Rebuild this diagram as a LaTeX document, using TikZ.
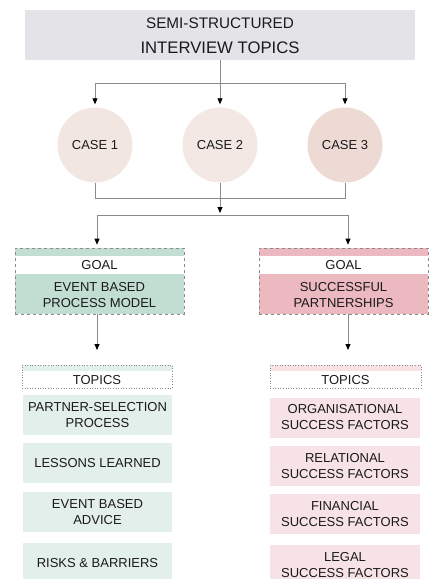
\documentclass[tikz,border=0pt]{standalone}
\usepackage{fontspec}
\setmainfont{Liberation Sans}
\usetikzlibrary{arrows.meta}

\definecolor{headgrey}{HTML}{E4E3E8}
\definecolor{caseA}{HTML}{F2E6E1}
\definecolor{caseB}{HTML}{F3E8E4}
\definecolor{caseC}{HTML}{EEDAD5}
\definecolor{goalgreen}{HTML}{C2DED2}
\definecolor{goalpink}{HTML}{EDB9C1}
\definecolor{topicgreen}{HTML}{E3EFEB}
\definecolor{topicpink}{HTML}{F7E3E5}
\definecolor{linegrey}{HTML}{8A8A8A}
\definecolor{inkgrey}{HTML}{1A1A1A}

\tikzset{
  x=1pt, y=1pt,
  every node/.style={text=inkgrey, font=\fontsize{13}{16}\selectfont, inner sep=0pt},
  link/.style={draw=linegrey, line width=0.8pt},
  flow/.style={link, -{Triangle[length=6pt,width=5pt,fill=black,color=black]}},
  casenode/.style={circle, minimum size=75pt},
  goalbox/.style={rectangle, minimum width=169pt, minimum height=66pt,
    draw=linegrey, dashed, line width=0.6pt,
    path picture={
      \fill[#1] (path picture bounding box.north west) rectangle
                ([yshift=-26pt]path picture bounding box.north east);
      \fill[white] ([yshift=-8pt]path picture bounding box.north west) rectangle
                ([yshift=-26pt]path picture bounding box.north east);
      \fill[#1] ([yshift=-26pt]path picture bounding box.north west) rectangle
                (path picture bounding box.south east);
    }},
  topichead/.style={rectangle, minimum height=23pt, draw=linegrey, dotted, line width=0.6pt,
    path picture={
      \fill[#1] (path picture bounding box.north west) rectangle
                ([yshift=-6pt]path picture bounding box.north east);
    }},
  topicbox/.style={rectangle, minimum height=40pt, fill=#1, align=center},
}

\begin{document}
\begin{tikzpicture}
\useasboundingbox (0,0) rectangle (429,-579);

% heading box
\node[rectangle, fill=headgrey, minimum width=390pt, minimum height=50pt] (head) at (220,-35) {};
\node[font=\fontsize{15.3}{18}\selectfont] (headA) at (220,-23) {SEMI-STRUCTURED};
\node[font=\fontsize{16.7}{20}\selectfont] (headB) at (220,-48) {INTERVIEW TOPICS};

% the three cases
\node[casenode, fill=caseA] (c1) at (95,-145) {CASE 1};
\node[casenode, fill=caseB] (c2) at (220,-145) {CASE 2};
\node[casenode, fill=caseC] (c3) at (345,-145) {CASE 3};

\coordinate (split) at (220,-83);
\coordinate (joinL) at (95,-198);
\coordinate (joinR) at (345,-198);
\coordinate (join) at (220,-198);
\coordinate (fork) at (220,-215);
\coordinate (forkL) at (97,-215);
\coordinate (forkR) at (348,-215);

\draw[link] (head.south) -- (split);
\draw[flow, shorten >=3pt] (split) -| (c1.north);
\draw[flow, shorten >=3pt] (split) -- (c2.north);
\draw[flow, shorten >=3pt] (split) -| (c3.north);

\draw[link] (c1.south) -- (joinL) -- (joinR) -- (c3.south);
\draw[link] (c2.south) -- (join);
\draw[flow, shorten >=2pt] (join) -- (fork);

% goals
\node[goalbox=goalgreen] (gl) at (99.5,-281) {};
\node[goalbox=goalpink] (gr) at (343.5,-281) {};
\node (glT) at ([yshift=-17pt]gl.north) {GOAL};
\node[align=center] (glM) at ([yshift=-47.5pt]gl.north) {EVENT BASED\\PROCESS MODEL};
\node (grT) at ([yshift=-17pt]gr.north) {GOAL};
\node[align=center] (grM) at ([yshift=-47.5pt]gr.north) {SUCCESSFUL\\PARTNERSHIPS};

\draw[link] (forkL) -- (forkR);
\draw[flow, shorten >=3pt] (forkL) -- (forkL |- gl.north);
\draw[flow, shorten >=3pt] (forkR) -- (forkR |- gr.north);

% topic lists
\node[topichead=topicgreen, minimum width=150pt] (tl) at (97,-376.5) {};
\node[topichead=topicpink, minimum width=151pt] (tr) at (345.5,-376.5) {};
\node (tlT) at ([yshift=-3.5pt]tl.center) {TOPICS};
\node (trT) at ([yshift=-3.5pt]tr.center) {TOPICS};

\coordinate (tlIn) at (97,-350);
\coordinate (trIn) at (348,-350);
\draw[flow] (gl.south -| tlIn) -- (tlIn);
\draw[flow] (gr.south -| trIn) -- (trIn);

\node[topicbox=topicgreen, minimum width=149pt] (l1) at (97.5,-415) {PARTNER-SELECTION\\PROCESS};
\node[topicbox=topicgreen, minimum width=149pt] (l2) at (97.5,-463) {LESSONS LEARNED};
\node[topicbox=topicgreen, minimum width=149pt] (l3) at (97.5,-512) {EVENT BASED\\ADVICE};
\node[topicbox=topicgreen, minimum width=149pt] (l4) at (97.5,-563) {RISKS \& BARRIERS};

\node[topicbox=topicpink, minimum width=150pt] (r1) at (345,-417.5) {ORGANISATIONAL\\SUCCESS FACTORS};
\node[topicbox=topicpink, minimum width=150pt] (r2) at (345,-466) {RELATIONAL\\SUCCESS FACTORS};
\node[topicbox=topicpink, minimum width=150pt] (r3) at (345,-514) {FINANCIAL\\SUCCESS FACTORS};
\node[topicbox=topicpink, minimum width=150pt] (r4) at (345,-565) {LEGAL\\SUCCESS FACTORS};
\end{tikzpicture}
\end{document}
